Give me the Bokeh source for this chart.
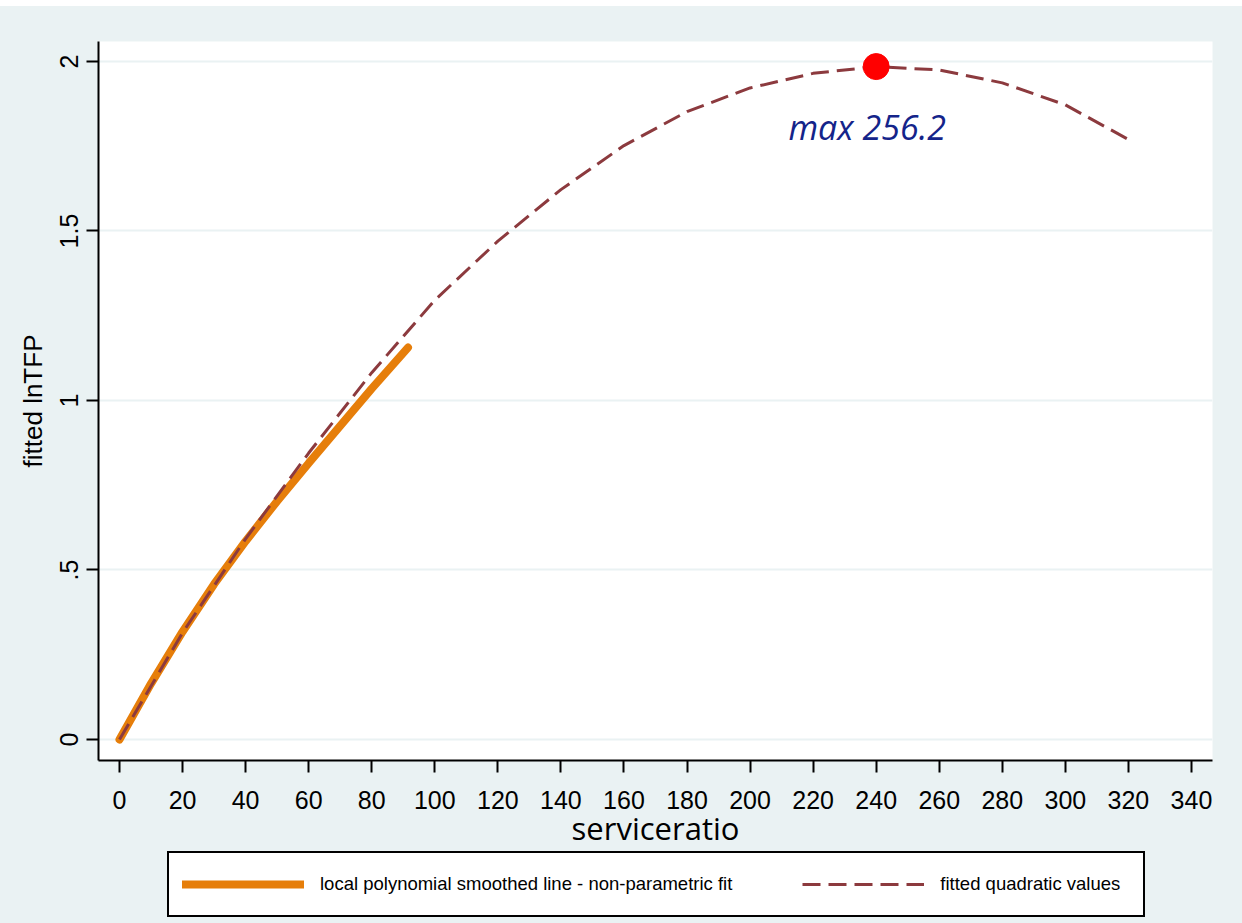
from bokeh.plotting import figure
from bokeh.layouts import column
from bokeh.models import (Range1d, FixedTicker, Legend, LegendItem, Label, Spacer)
from bokeh.embed import file_html
from bokeh.resources import INLINE

# ---- data ----
quad_x = [0, 20, 40, 60, 80, 100, 120, 140, 160, 180, 200, 220, 240, 260, 280, 300, 320]
quad_y = [0, 0.315, 0.592, 0.845, 1.082, 1.296, 1.470, 1.622, 1.752, 1.852, 1.922, 1.965, 1.985, 1.975, 1.937, 1.872, 1.770]

lpoly_x = [0, 10, 20, 30, 40, 50, 60, 70, 80, 91.5]
lpoly_y = [0, 0.165, 0.318, 0.458, 0.585, 0.703, 0.815, 0.925, 1.035, 1.156]

peak_x = [240]
peak_y = [1.985]
peak_label = "max 256.2"

x_ticks = list(range(0, 341, 20))
y_ticks = [0, 0.5, 1, 1.5, 2]
y_tick_labels = {0: "0", 0.5: ".5", 1: "1", 1.5: "1.5", 2: "2"}

legend_labels = ["local polynomial smoothed line - non-parametric fit",
                 "fitted quadratic values"]
x_title = "serviceratio"
y_title = "fitted lnTFP"

BG = "#EAF2F3"
ORANGE = "#E67E0A"
MAROON = "#8C3A3E"
W = 1242

# ---------------- main plot ----------------
p = figure(width=W, height=845, output_backend="svg", toolbar_location=None,
           x_range=Range1d(-6.66, 346.67), y_range=Range1d(-0.062, 2.059),
           min_border_left=98, min_border_right=30, min_border_top=35, min_border_bottom=91)

p.background_fill_color = "white"
p.border_fill_color = BG
p.outline_line_color = None

p.xgrid.visible = False
p.ygrid.grid_line_color = BG
p.ygrid.grid_line_width = 2

for ax in (p.xaxis[0], p.yaxis[0]):
    ax.axis_line_color = "black"
    ax.axis_line_width = 2
    ax.major_tick_line_color = "black"
    ax.major_tick_line_width = 2
    ax.major_tick_out = 12
    ax.major_tick_in = 0
    ax.minor_tick_line_color = None
    ax.major_label_text_font = "Liberation Sans"
    ax.major_label_text_font_size = "25px"
    ax.major_label_text_color = "black"

p.xaxis.ticker = FixedTicker(ticks=x_ticks)
p.xaxis.major_label_standoff = 18
p.xaxis.axis_label = x_title
p.xaxis.axis_label_text_font = "Open Sans"
p.xaxis.axis_label_text_font_size = "31px"
p.xaxis.axis_label_text_font_style = "normal"
p.xaxis.axis_label_text_color = "black"
p.xaxis.axis_label_standoff = -5

p.yaxis.ticker = FixedTicker(ticks=y_ticks)
p.yaxis.major_label_overrides = y_tick_labels
p.yaxis.major_label_orientation = "vertical"
p.yaxis.major_label_standoff = 8
p.yaxis.axis_label = y_title
p.yaxis.axis_label_text_font = "Liberation Sans"
p.yaxis.axis_label_text_font_size = "26px"
p.yaxis.axis_label_text_font_style = "normal"
p.yaxis.axis_label_text_color = "black"
p.yaxis.axis_label_standoff = 10

r_l = p.line(lpoly_x, lpoly_y, line_color=ORANGE, line_width=8, line_cap="round")
r_q = p.line(quad_x, quad_y, line_color=MAROON, line_width=3, line_dash="18 8")

p.scatter(peak_x, peak_y, size=26, fill_color="#FF0000", line_color="#FF0000", marker="circle")
p.add_layout(Label(x=peak_x[0], y=peak_y[0], text=peak_label, x_offset=-9, y_offset=-60,
                   text_align="center", text_baseline="alphabetic",
                   text_font="Open Sans", text_font_style="italic",
                   text_font_size="34px", text_color="#14248A"))

# ---------------- bottom strip: legend ----------------
# (ranges chosen so that the series drawn here only feed the legend glyphs)
p2 = figure(width=W, height=72, output_backend="svg", toolbar_location=None,
            x_range=Range1d(1000, 1001), y_range=Range1d(1000, 1001),
            x_axis_location=None, y_axis_location=None,
            min_border_left=0, min_border_right=0, min_border_top=0, min_border_bottom=0)
p2.background_fill_color = BG
p2.border_fill_color = BG
p2.outline_line_color = None
p2.grid.visible = False

d_l = p2.line(lpoly_x, lpoly_y, line_color=ORANGE, line_width=8, line_cap="round")
d_q = p2.line(quad_x, quad_y, line_color=MAROON, line_width=3, line_dash="18 8")

legend = Legend(items=[LegendItem(label=legend_labels[0], renderers=[d_l]),
                       LegendItem(label=legend_labels[1], renderers=[d_q])],
                location=(69, 6), orientation="horizontal",
                border_line_color="black", border_line_width=2, border_line_alpha=1,
                background_fill_color="white", background_fill_alpha=1,
                padding=13, spacing=70, margin=0,
                label_standoff=16, glyph_width=122, glyph_height=36, label_width=190,
                label_text_font="Liberation Sans", label_text_font_size="18.5px",
                label_text_color="black")
p2.add_layout(legend, "center")

sp = Spacer(width=W, height=6, styles={"background-color": "white"})
layout = column(sp, p, p2, spacing=0, styles={"background-color": BG})

open("out.html", "w").write(file_html(layout, INLINE))
